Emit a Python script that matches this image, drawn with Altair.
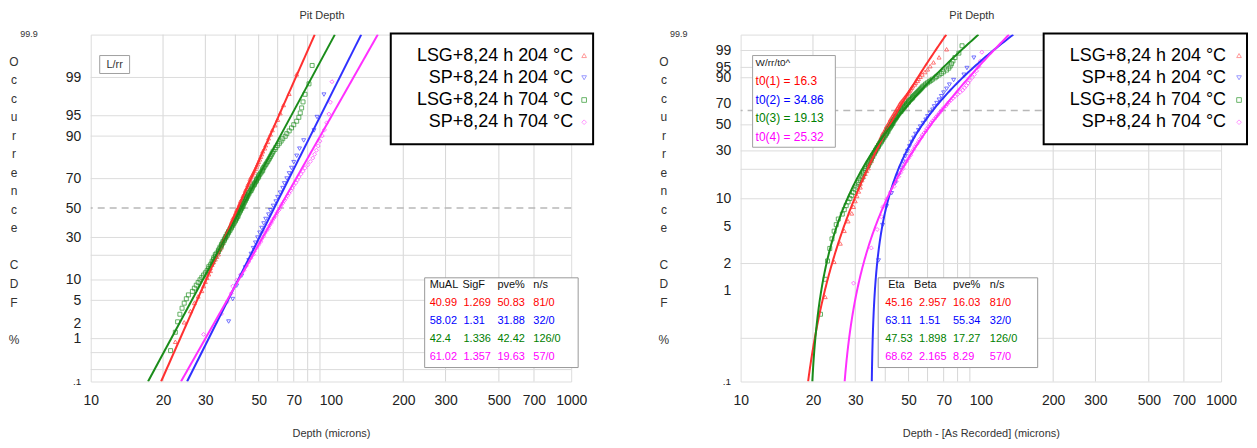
import math
from statistics import NormalDist
import numpy as np
import pandas as pd
import altair as alt

FONT = "Liberation Sans"

# ---------------- data ----------------
series_names = ["LSG+8,24 h 204 °C", "SP+8,24 h 204 °C", "LSG+8,24 h 704 °C", "SP+8,24 h 704 °C"]
line_colors = ["#ff0000", "#0000ff", "#008000", "#ff00ff"]
point_colors = ["#ff3030", "#3030ff", "#1a8c1a", "#ff30ff"]
legend_colors = ["#ff7070", "#7070ff", "#2a962a", "#ff70ff"]
point_shapes = ["triangle-up", "triangle-down", "square", "diamond"]

depth_lsg204 = [22.5, 24.5, 26.0, 27.0, 28.0, 29.0, 29.5, 30.0, 30.5, 31.0,
                31.5, 31.5, 32.0, 32.5, 33.0, 33.5, 34.0, 34.0, 34.5, 35.0,
                35.0, 35.5, 35.5, 36.0, 36.5, 36.5, 37.0, 37.0, 37.5, 38.0,
                38.0, 38.5, 38.5, 39.0, 39.0, 39.5, 40.0, 40.0, 40.5, 40.5,
                41.0, 41.5, 41.5, 42.0, 42.0, 42.5, 43.0, 43.0, 43.5, 44.0,
                44.0, 44.5, 45.0, 45.0, 45.5, 46.0, 46.0, 46.5, 47.0, 47.5,
                48.0, 48.5, 49.0, 49.5, 50.0, 50.5, 51.0, 51.5, 52.0, 53.0,
                53.5, 54.5, 55.0, 56.0, 57.0, 58.5, 60.0, 61.5, 63.5, 67.0,
                72.0]
depth_sp204 = [37.5, 39.0, 40.5, 42.5, 44.0, 45.5, 46.5, 47.5, 48.5, 49.5,
               50.5, 51.5, 52.5, 53.5, 55.0, 56.0, 57.5, 59.0, 60.0, 61.5,
               63.0, 64.0, 65.5, 67.0, 68.5, 70.0, 72.0, 74.0, 77.0, 85.0,
               87.5, 93.5]
depth_lsg704 = [21.5, 22.5, 23.0, 23.5, 24.0, 24.5, 25.0, 25.5, 26.5, 27.0,
                27.5, 28.0, 28.5, 29.0, 29.5, 30.0, 30.5, 31.0, 31.0, 31.5,
                32.0, 32.0, 32.5, 32.5, 33.0, 33.0, 33.5, 34.0, 34.0, 34.5,
                34.5, 35.0, 35.0, 35.5, 35.5, 36.0, 36.0, 36.5, 36.5, 37.0,
                37.0, 37.5, 37.5, 38.0, 38.0, 38.5, 38.5, 39.0, 39.0, 39.5,
                39.5, 40.0, 40.0, 40.5, 40.5, 41.0, 41.0, 41.0, 41.5, 41.5,
                42.0, 42.0, 42.5, 42.5, 43.0, 43.0, 43.0, 43.5, 43.5, 44.0,
                44.0, 44.5, 44.5, 45.0, 45.0, 45.5, 45.5, 46.0, 46.5, 46.5,
                47.0, 47.0, 47.5, 48.0, 48.0, 48.5, 49.0, 49.0, 49.5, 50.0,
                50.0, 50.5, 51.0, 51.5, 52.0, 52.0, 52.5, 53.0, 53.5, 54.0,
                54.5, 55.0, 55.5, 56.0, 56.5, 57.0, 57.5, 58.5, 59.0, 60.0,
                61.0, 62.0, 63.0, 64.5, 65.5, 67.0, 68.5, 70.0, 72.0, 73.5,
                74.5, 75.5, 76.5, 78.0, 81.0, 83.5]
depth_sp704 = [29.5, 35.0, 37.0, 38.5, 39.0, 40.5, 42.0, 43.5, 44.5, 45.5,
               46.5, 47.5, 48.0, 49.0, 50.0, 51.0, 51.5, 52.5, 53.0, 54.0,
               55.0, 55.5, 56.5, 57.0, 58.0, 59.0, 59.5, 60.5, 61.5, 62.0,
               63.0, 64.0, 65.0, 66.0, 67.0, 68.0, 69.0, 70.0, 71.5, 72.5,
               73.5, 75.0, 76.5, 78.0, 80.0, 82.0, 84.0, 85.5, 87.0, 88.5,
               90.0, 92.0, 94.0, 96.0, 98.0, 99.5, 101.0]
depth_lists = [depth_lsg204, depth_sp204, depth_lsg704, depth_sp704]

# lognormal fit parameters (left panel table)
ln_mual = [40.99, 58.02, 42.4, 61.02]
ln_sigf = [1.269, 1.31, 1.336, 1.357]
ln_mual_txt = ["40.99", "58.02", "42.4", "61.02"]
ln_sigf_txt = ["1.269", "1.31", "1.336", "1.357"]
ln_pve_txt = ["50.83", "31.88", "42.42", "19.63"]
ns_txt = ["81/0", "32/0", "126/0", "57/0"]

# 3-parameter Weibull fit parameters (right panel table and t0 box)
wb_eta = [45.16, 63.11, 47.53, 68.62]
wb_beta = [2.957, 1.51, 1.898, 2.165]
wb_t0 = [16.3, 34.86, 19.13, 25.32]
wb_eta_txt = ["45.16", "63.11", "47.53", "68.62"]
wb_beta_txt = ["2.957", "1.51", "1.898", "2.165"]
wb_pve_txt = ["16.03", "55.34", "17.27", "8.29"]
wb_t0_txt = ["16.3", "34.86", "19.13", "25.32"]

x_ticks = [10, 20, 30, 50, 70, 100, 200, 300, 500, 700, 1000]
x_grid = [20, 30, 40, 50, 60, 70, 80, 90, 200, 300, 500, 700]
tick_pct = [99, 95, 90, 70, 50, 30, 10, 5, 2, 1, 0.1]
tick_lab = ["99", "95", "90", "70", "50", "30", "10", "5", "2", "1", ".1"]
ln_grid_pct = [99, 95, 90, 70, 30, 20, 10, 5, 1, 0.5, 0.2]
wb_grid_pct = [99, 95, 90, 50, 30, 20, 10, 2, 0.3]
ln_dash_pct = 50
wb_dash_pct = 63.2
ylabel_words = [["O", "c", "c", "u", "r", "r", "e", "n", "c", "e"], ["C", "D", "F"], ["%"]]
ylabel_start_line = [0, 11, 15]

nd = NormalDist()


def ln_y(p):
    return nd.inv_cdf(p)


def wb_y(p):
    return math.log(-math.log(1.0 - p))


# ---------------- tables ----------------
pt_rows = []
for name, d in zip(series_names, depth_lists):
    ds = sorted(d)
    n = len(ds)
    for i, v in enumerate(ds, start=1):
        p = (i - 0.3) / (n + 0.4)
        pt_rows.append({"series": name, "depth": v, "y_ln": ln_y(p), "y_wb": wb_y(p)})
pts = pd.DataFrame(pt_rows)
pts_ln = pts.rename(columns={"y_ln": "y"})[["series", "depth", "y"]]
pts_wb = pts.rename(columns={"y_wb": "y"})[["series", "depth", "y"]]

LN_LO, LN_HI = ln_y(0.001), ln_y(0.999)
WB_LO, WB_HI = wb_y(0.001), wb_y(0.999)

ln_fit_rows = []
for name, m, s in zip(series_names, ln_mual, ln_sigf):
    for z in (LN_LO, LN_HI):
        ln_fit_rows.append({"series": name, "depth": m * s ** z, "y": z})
ln_fit = pd.DataFrame(ln_fit_rows)

wb_fit_rows = []
wgrid = np.linspace(WB_LO, WB_HI, 240)
for name, e, b, t in zip(series_names, wb_eta, wb_beta, wb_t0):
    for w in wgrid:
        wb_fit_rows.append({"series": name, "depth": t + (e - t) * math.exp(w / b), "y": float(w)})
wb_fit = pd.DataFrame(wb_fit_rows)

one = pd.DataFrame({"k": [0]})


def txt(s, x, y, size=11, color="#000000", align="left", baseline="middle"):
    return alt.Chart(one).mark_text(text=s, align=align, baseline=baseline, fontSize=size,
                                    color=color, font=FONT).encode(x=alt.value(x), y=alt.value(y))


def box(x1, x2, y1, y2, stroke, sw):
    return alt.Chart(one).mark_rect(fill="white", stroke=stroke, strokeWidth=sw).encode(
        x=alt.value(x1), x2=alt.value(x2), y=alt.value(y1), y2=alt.value(y2))


def sym(shape, color, x, y):
    return alt.Chart(one).mark_point(shape=shape, filled=False, size=22, strokeWidth=1,
                                     color=color).encode(x=alt.value(x), y=alt.value(y))


def label_expr(vals, labs):
    parts = [f"abs(datum.value - ({v:.6f})) < 0.0005 ? '{l}' : " for v, l in zip(vals, labs)]
    return "".join(parts) + "''"


def panel(kind):
    if kind == "ln":
        yf, lo, hi = ln_y, LN_LO, LN_HI
        grid_pct, dash_pct = ln_grid_pct, ln_dash_pct
        pts_df, fit_df = pts_ln, ln_fit
        xtitle = "Depth (microns)"
    else:
        yf, lo, hi = wb_y, WB_LO, WB_HI
        grid_pct, dash_pct = wb_grid_pct, wb_dash_pct
        pts_df, fit_df = pts_wb, wb_fit
        xtitle = "Depth - [As Recorded] (microns)"

    tick_vals = [yf(p / 100.0) for p in tick_pct]
    X = alt.X("depth:Q",
              scale=alt.Scale(type="log", domain=[10, 1000], nice=False),
              axis=alt.Axis(values=x_ticks, format="d", grid=False, ticks=False, domain=False,
                            labelFont=FONT, labelFontSize=14, labelColor="#222222",
                            labelPadding=12, labelFlush=False, labelOverlap=False,
                            title=xtitle, titleFont=FONT, titleFontSize=11,
                            titleFontWeight="normal", titleColor="#333333", titlePadding=20))
    Y = alt.Y("y:Q",
              scale=alt.Scale(domain=[lo, hi], nice=False, zero=False),
              axis=alt.Axis(values=tick_vals, labelExpr=label_expr(tick_vals, tick_lab),
                            grid=False, ticks=False, domain=False, labelFont=FONT,
                            labelFontSize={"condition": {"test": f"datum.value < {lo + 0.05}", "value": 10},
                                           "value": 14},
                            labelColor="#222222", labelPadding=10, labelOverlap=False,
                            labelFlush=False, title=None))
    color = alt.Color("series:N", scale=alt.Scale(domain=series_names, range=line_colors), legend=None)
    pcolor = alt.Color("series:N", scale=alt.Scale(domain=series_names, range=point_colors), legend=None)
    shape = alt.Shape("series:N", scale=alt.Scale(domain=series_names, range=point_shapes), legend=None)

    vgrid_df = pd.DataFrame({"depth": x_grid})
    hgrid_df = pd.DataFrame({"y": [yf(p / 100.0) for p in grid_pct]})
    dash_df = pd.DataFrame({"y": [yf(dash_pct / 100.0)]})

    layers = [
        alt.Chart(vgrid_df).mark_rule(color="#d6d6d6", strokeWidth=1).encode(x=X),
        alt.Chart(hgrid_df).mark_rule(color="#dcdcdc", strokeWidth=1).encode(y=Y),
        alt.Chart(dash_df).mark_rule(color="#b8b8b8", strokeWidth=1.5, strokeDash=[7, 5]).encode(y=Y),
        alt.Chart(pts_df).mark_point(filled=False, size=16, strokeWidth=0.9, opacity=0.75, clip=True)
            .encode(x=X, y=Y, color=pcolor, shape=shape),
        alt.Chart(fit_df).mark_line(strokeWidth=2, clip=True).encode(x=X, y=Y, color=color),
    ]

    # outside texts: title, 99.9 label, stacked y title
    layers.append(txt("Pit Depth", 232, -19, size=11, color="#333333", align="center"))
    layers.append(txt("99.9", -62, -1, size=9, color="#333333", align="center"))
    for word, start in zip(ylabel_words, ylabel_start_line):
        layers.append(alt.Chart(one).mark_text(text=word, lineHeight=18.6, align="center",
                                               baseline="top", fontSize=12, color="#333333", font=FONT)
                      .encode(x=alt.value(-77), y=alt.value(22 + start * 18.6)))

    # legend box
    if kind == "ln":
        lx1, lx2, ltx, lsx = 301, 504, 484, 495
    else:
        lx1, lx2, ltx, lsx = 304, 508, 487, 500
    layers.append(box(lx1, lx2, -1, 110, "#000000", 2))
    for k, name in enumerate(series_names):
        yy = 21 + k * 22.3
        layers.append(txt(name, ltx, yy, size=18, color="#000000", align="right"))
        layers.append(sym(point_shapes[k], legend_colors[k], lsx, yy))

    # parameter tables
    if kind == "ln":
        layers.append(box(9, 39, 21, 39, "#a0a0a0", 1))
        layers.append(txt("L/rr", 24, 30, size=11, color="#333333", align="center"))
        layers.append(box(335, 489, 244, 334, "#999999", 1))
        cols = [340, 374, 408, 444]
        head = ["MuAL", "SigF", "pve%", "n/s"]
        hcols = [340, 373, 408, 444]
        rows = [[ln_mual_txt[k], ln_sigf_txt[k], ln_pve_txt[k], ns_txt[k]] for k in range(4)]
    else:
        layers.append(box(12, 95, 21, 113, "#a0a0a0", 1))
        layers.append(txt("W/rr/t0^", 15, 28, size=10, color="#222222"))
        for k in range(4):
            layers.append(txt(f"t0({k + 1}) = {wb_t0_txt[k]}", 15, 47 + k * 18.5, size=12,
                              color=line_colors[k]))
        layers.append(box(138, 298, 244, 334, "#999999", 1))
        cols = [145, 179, 213, 250]
        head = ["Eta", "Beta", "pve%", "n/s"]
        hcols = [148, 174, 213, 250]
        rows = [[wb_eta_txt[k], wb_beta_txt[k], wb_pve_txt[k], ns_txt[k]] for k in range(4)]
    for c, h in zip(hcols, head):
        layers.append(txt(h, c, 251, size=11, color="#111111"))
    for k, r in enumerate(rows):
        for c, v in zip(cols, r):
            layers.append(txt(v, c, 269 + k * 18, size=11, color=line_colors[k]))

    return alt.layer(*layers).properties(width=482, height=348)


chart = alt.hconcat(panel("ln"), panel("wb"), spacing=170, bounds="flush").properties(
    padding={"left": 0, "top": 0, "right": 0, "bottom": 0}
).configure_view(stroke="#8a8a8a", strokeWidth=1.5).configure(font=FONT)

chart.save("out.html", embed_options={"renderer": "svg", "actions": False})
